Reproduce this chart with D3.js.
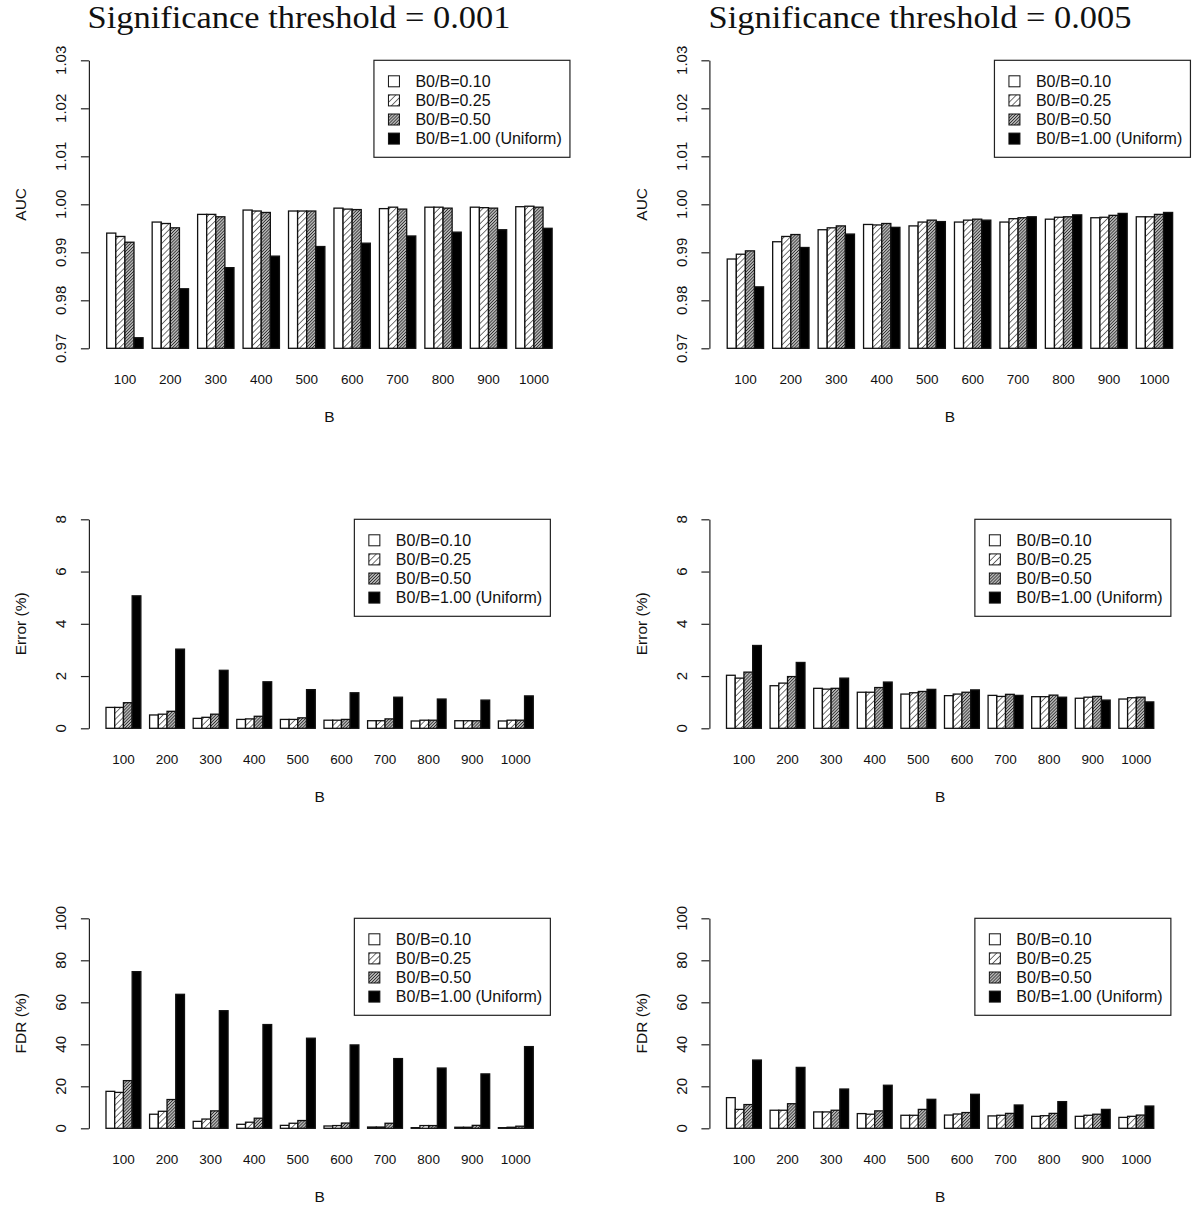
<!DOCTYPE html>
<html>
<head>
<meta charset="utf-8">
<script src="https://cdn.jsdelivr.net/npm/d3@7"></script>
<style>
  html, body { margin: 0; padding: 0; background: #fff; }
  svg { display: block; }
  .lab { font-family: "Liberation Sans", Arial, sans-serif; fill: #111; }
  .title { font-family: "Liberation Serif", "DejaVu Serif", serif; fill: #111; }
</style>
</head>
<body>
<svg id="chart" width="1200" height="1211"></svg>
<script>
// ---------------- data ----------------
const categories = ["100","200","300","400","500","600","700","800","900","1000"];
const seriesNames = ["B0/B=0.10","B0/B=0.25","B0/B=0.50","B0/B=1.00 (Uniform)"];
const titles = ["Significance threshold = 0.001", "Significance threshold = 0.005"];

// AUC, threshold 0.001 (one row per B0/B series)
const auc001 = [
  [0.9940,0.9963,0.9979,0.9988,0.9986,0.9992,0.9991,0.9994,0.9994,0.9995],
  [0.9933,0.9960,0.9979,0.9986,0.9986,0.9990,0.9994,0.9994,0.9993,0.9996],
  [0.9921,0.9951,0.9974,0.9983,0.9986,0.9989,0.9990,0.9992,0.9992,0.9994],
  [0.9722,0.9824,0.9868,0.9892,0.9912,0.9919,0.9934,0.9942,0.9947,0.9950]
];
// AUC, threshold 0.005
const auc005 = [
  [0.9886,0.9922,0.9947,0.9958,0.9955,0.9963,0.9963,0.9969,0.9972,0.9974],
  [0.9896,0.9933,0.9951,0.9957,0.9963,0.9967,0.9970,0.9973,0.9973,0.9974],
  [0.9903,0.9937,0.9955,0.9960,0.9967,0.9969,0.9972,0.9974,0.9977,0.9979],
  [0.9828,0.9910,0.9938,0.9952,0.9964,0.9967,0.9974,0.9978,0.9981,0.9983]
];
// Error (%), threshold 0.001
const err001 = [
  [0.80,0.51,0.38,0.34,0.34,0.31,0.29,0.28,0.29,0.28],
  [0.80,0.54,0.42,0.36,0.34,0.31,0.29,0.31,0.29,0.31],
  [0.98,0.65,0.54,0.46,0.40,0.34,0.36,0.31,0.29,0.31],
  [5.07,3.03,2.22,1.78,1.48,1.36,1.19,1.12,1.08,1.24]
];
// Error (%), threshold 0.005
const err005 = [
  [2.03,1.63,1.53,1.38,1.31,1.25,1.26,1.21,1.15,1.12],
  [1.92,1.73,1.50,1.38,1.36,1.31,1.22,1.21,1.19,1.17],
  [2.15,1.98,1.53,1.56,1.41,1.38,1.30,1.27,1.22,1.19],
  [3.17,2.52,1.92,1.77,1.49,1.47,1.26,1.19,1.08,1.01]
];
// FDR (%), threshold 0.001
const fdr001 = [
  [17.6,6.7,3.3,1.9,1.4,1.1,0.6,0.3,0.5,0.3],
  [17.1,8.1,4.4,2.9,2.4,1.3,0.6,1.3,0.5,0.5],
  [22.7,13.7,8.3,4.8,3.7,2.5,2.4,1.3,1.4,1.0],
  [74.6,63.8,56.0,49.4,42.9,39.7,33.2,28.7,25.9,38.9]
];
// FDR (%), threshold 0.005
const fdr005 = [
  [14.6,8.6,7.8,7.0,6.2,6.3,5.9,5.7,5.7,5.2],
  [9.0,8.6,7.8,6.7,6.2,6.8,6.2,6.0,6.2,5.7],
  [11.3,11.7,8.6,8.3,9.0,7.5,7.1,7.1,6.7,6.3],
  [32.5,29.0,18.7,20.5,13.8,16.2,11.1,12.7,9.0,10.6]
];

const aucTicks = [0.97,0.98,0.99,1.00,1.01,1.02,1.03];
const errTicks = [0,2,4,6,8];
const fdrTicks = [0,20,40,60,80,100];

// ---------------- layout ----------------
const rows = [
  { top: 60.3,  bottom: 348.3,  unit: 9.09, domain: [0.97,1.03], ticks: aucTicks, fmt: d3.format(".2f"), ylab: "AUC",       data: [auc001, auc005] },
  { top: 519.3, bottom: 728.3,  unit: 8.72, domain: [0,8],       ticks: errTicks, fmt: d3.format("d"),   ylab: "Error (%)", data: [err001, err005] },
  { top: 918.3, bottom: 1128.3, unit: 8.72, domain: [0,100],     ticks: fdrTicks, fmt: d3.format("d"),   ylab: "FDR (%)",   data: [fdr001, fdr005] }
];
const colAxisX = [88.9, 709.4];

const svg = d3.select("#chart");
const defs = svg.append("defs");

function hatch(id, spacing, sw, bg) {
  const p = defs.append("pattern")
    .attr("id", id)
    .attr("patternUnits", "userSpaceOnUse")
    .attr("width", spacing).attr("height", spacing)
    .attr("patternTransform", "rotate(45)");
  p.append("rect").attr("width", spacing).attr("height", spacing).attr("fill", bg);
  p.append("line").attr("x1", 0).attr("y1", -1).attr("x2", 0).attr("y2", spacing + 1)
    .attr("stroke", "#000").attr("stroke-width", sw);
}
hatch("h25", 4.4, 1.1, "#fff");
hatch("h50", 2.2, 1.1, "#b4b4b4");
const fills = ["#ffffff", "url(#h25)", "url(#h50)", "#000000"];

// titles
titles.forEach((t, c) => {
  svg.append("text").attr("class", "title")
    .attr("x", c === 0 ? 299 : 920).attr("y", 28)
    .attr("text-anchor", "middle")
    .attr("font-size", 31)
    .attr("textLength", 423).attr("lengthAdjust", "spacingAndGlyphs")
    .text(t);
});

rows.forEach(row => {
  [0, 1].forEach(c => {
    const vals = row.data[c];
    const ax = colAxisX[c];
    const g = svg.append("g");

    // unit coordinate scale (R barplot style: xlim = [1,50] extended by 4%)
    const u = d3.scaleLinear().domain([-0.96, 51.96]).range([ax, ax + 52.92 * row.unit]);
    const xg = d3.scaleBand().domain(categories)
      .range([u(0), u(51)]).paddingInner(0.2).paddingOuter(0.2);
    const xs = d3.scaleBand().domain(d3.range(seriesNames.length))
      .range([0, xg.bandwidth()]).padding(0);
    const y = d3.scaleLinear().domain(row.domain).range([row.bottom, row.top]);

    // bars
    seriesNames.forEach((s, si) => {
      g.selectAll(null).data(vals[si]).enter().append("rect")
        .attr("x", (d, i) => xg(categories[i]) + xs(si))
        .attr("y", d => y(d))
        .attr("width", xs.bandwidth())
        .attr("height", d => y(row.domain[0]) - y(d))
        .attr("fill", fills[si])
        .attr("stroke", "#111")
        .attr("stroke-width", 1.3);
    });

    // y axis
    const axis = d3.axisLeft(y).tickValues(row.ticks).tickSize(8).tickSizeOuter(0).tickFormat("");
    const ag = g.append("g").attr("transform", `translate(${ax},0)`).call(axis);
    ag.select(".domain").attr("stroke", "#222").attr("stroke-width", 1.2);
    ag.selectAll(".tick line").attr("stroke", "#222").attr("stroke-width", 1.2);
    ag.selectAll(".tick text").remove();

    row.ticks.forEach(t => {
      g.append("text").attr("class", "lab")
        .attr("transform", `translate(${ax - 28},${y(t)}) rotate(-90)`)
        .attr("text-anchor", "middle").attr("dy", "0.35em")
        .attr("font-size", 15)
        .text(row.fmt(t));
    });

    // y label
    g.append("text").attr("class", "lab")
      .attr("transform", `translate(${ax - 68},${(row.top + row.bottom) / 2}) rotate(-90)`)
      .attr("text-anchor", "middle").attr("dy", "0.35em")
      .attr("font-size", 15.5)
      .text(row.ylab);

    // category labels
    g.selectAll(null).data(categories).enter().append("text").attr("class", "lab")
      .attr("x", d => xg(d) + xg.bandwidth() / 2)
      .attr("y", row.bottom + 31)
      .attr("dy", "0.35em")
      .attr("text-anchor", "middle")
      .attr("font-size", 13.5)
      .text(d => d);

    // x label
    g.append("text").attr("class", "lab")
      .attr("x", (u(-0.96) + u(51.96)) / 2)
      .attr("y", row.bottom + 68)
      .attr("dy", "0.35em")
      .attr("text-anchor", "middle")
      .attr("font-size", 15.5)
      .text("B");

    // legend
    const lw = 196, lh = 97;
    const lx = u(51.96) - lw, ly = row.top;
    const lg = g.append("g").attr("transform", `translate(${lx},${ly})`);
    lg.append("rect").attr("width", lw).attr("height", lh)
      .attr("fill", "#fff").attr("stroke", "#222").attr("stroke-width", 1.2);
    seriesNames.forEach((s, si) => {
      const cy = 21 + si * 19.1;
      lg.append("rect")
        .attr("x", 14.5).attr("y", cy - 5.5)
        .attr("width", 11).attr("height", 11)
        .attr("fill", fills[si]).attr("stroke", "#111").attr("stroke-width", 1);
      lg.append("text").attr("class", "lab")
        .attr("x", 41.5).attr("y", cy).attr("dy", "0.36em")
        .attr("font-size", 16)
        .text(s);
    });
  });
});
</script>
</body>
</html>
